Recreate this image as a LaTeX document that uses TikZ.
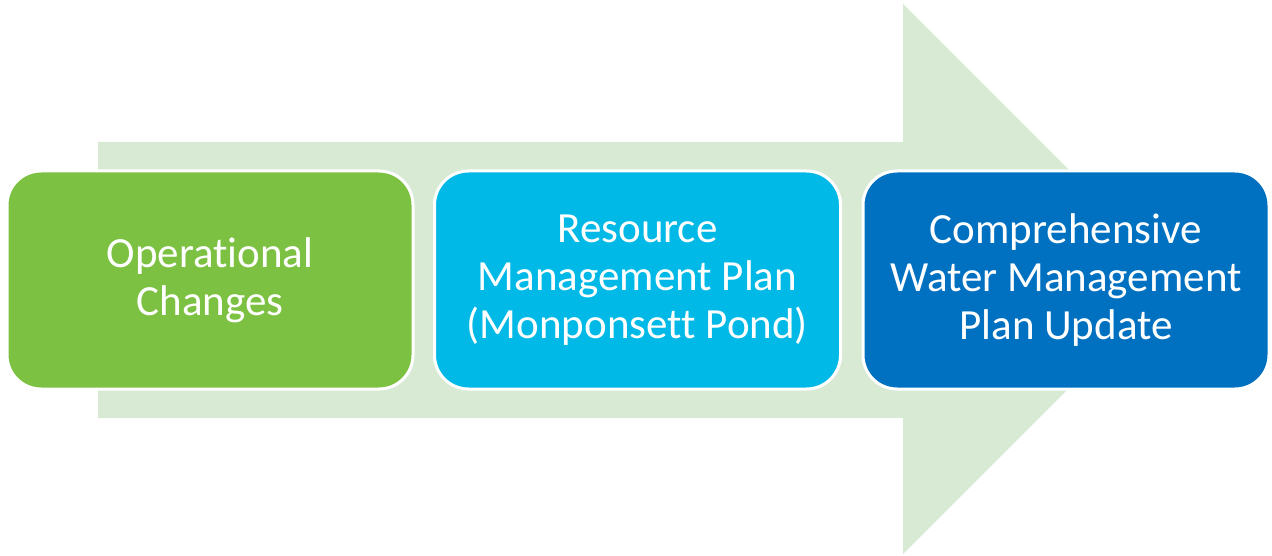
\documentclass[tikz,border=0pt]{standalone}
\usepackage{fontspec}
\setmainfont{Carlito}[Ligatures=NoCommon]
\definecolor{arrowfill}{HTML}{D8EAD3}
\definecolor{boxgreen}{HTML}{7DC143}
\definecolor{boxcyan}{HTML}{00B9E6}
\definecolor{boxblue}{HTML}{0071C1}
\tikzset{
  stagebox/.style={draw=white, line width=3pt, rounded corners=34pt,
    minimum width=406pt, minimum height=218pt, align=center,
    text=white, font=\fontsize{43}{48}\selectfont, inner sep=0pt},
}
\begin{document}
\begin{tikzpicture}[x=1pt,y=-1pt]
\useasboundingbox (0,0) rectangle (1272,556);
\fill[arrowfill] (98,142) -- (903,142) -- (903,4) -- (1178,279) -- (903,554) -- (903,418) -- (98,418) -- cycle;
\node[stagebox, fill=boxgreen] (b1) at (210,280) {Operational\\Changes};
\node[stagebox, fill=boxcyan] (b2) at (637.5,280) {Resource\\Management Plan\\(Monponsett Pond)};
\node[stagebox, fill=boxblue] (b3) at (1066,280) {Comprehensive\\Water Management\\Plan Update};
\end{tikzpicture}
\end{document}
